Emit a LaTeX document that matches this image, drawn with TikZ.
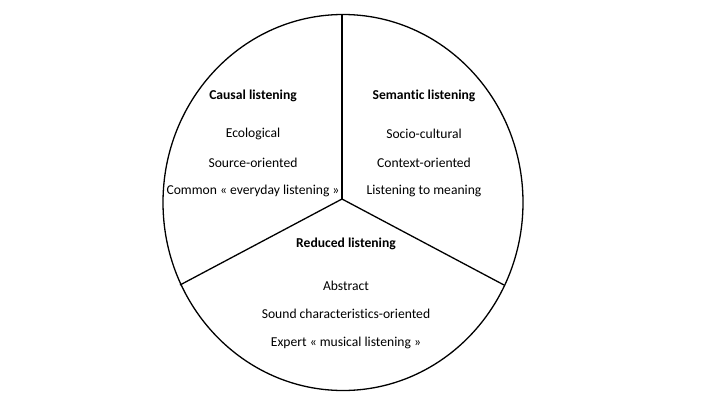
\documentclass[tikz,border=0pt]{standalone}
\usepackage{fontspec}
\setmainfont{Carlito}[Ligatures=NoCommon]
\begin{document}
\begin{tikzpicture}[x=1pt,y=-1pt,
  lbl/.style={font=\fontsize{13.6}{16}\selectfont, inner sep=0pt, anchor=center},
  ttl/.style={lbl, font=\fontsize{13.6}{16}\selectfont\bfseries},
  edge/.style={line width=1.3pt, black}]
\useasboundingbox (0,0) rectangle (720,405);
\draw[edge] (343,202.5) ellipse [x radius=180, y radius=188];
\coordinate (c) at (342,199);
\coordinate (top) at (342,14.5);
\coordinate (left) at (180,285);
\coordinate (right) at (504,285);
\draw[edge] (c) -- (top);
\draw[edge] (c) -- (left);
\draw[edge] (c) -- (right);
\node[ttl] (causal) at (253,96) {Causal listening};
\node[lbl] (eco) at (253,134) {Ecological};
\node[lbl] (src) at (253,163) {Source-oriented};
\node[lbl] (com) at (253,191) {Common « everyday listening »};
\node[ttl] (sem) at (424,96) {Semantic listening};
\node[lbl] (soc) at (424,134) {Socio-cultural};
\node[lbl] (ctx) at (424,163) {Context-oriented};
\node[lbl] (mean) at (424,191) {Listening to meaning};
\node[ttl] (red) at (346,244) {Reduced listening};
\node[lbl] (abs) at (346,286) {Abstract};
\node[lbl] (snd) at (346,314) {Sound characteristics-oriented};
\node[lbl] (exp) at (346,343) {Expert « musical listening »};
\end{tikzpicture}
\end{document}
